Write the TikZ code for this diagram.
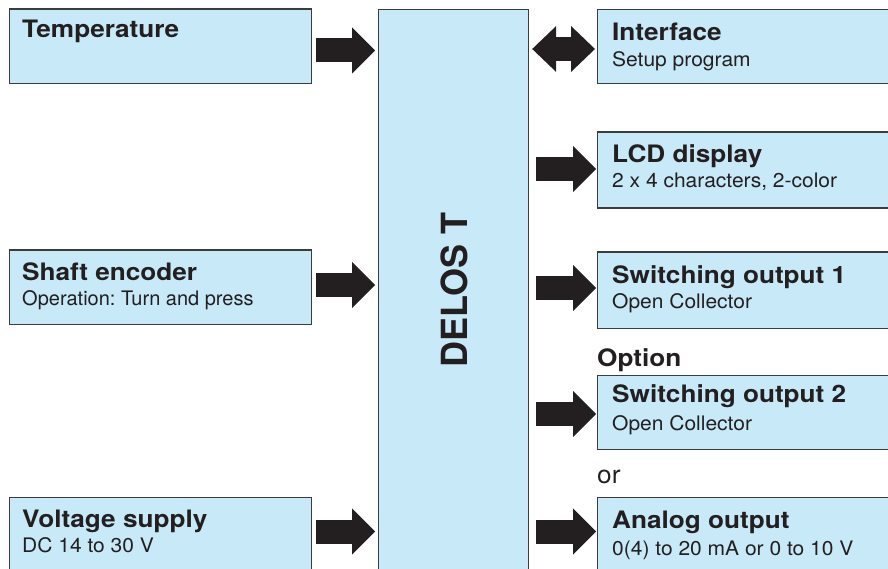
\documentclass[tikz,border=0pt]{standalone}
\usepackage{fontspec}
\setmainfont{TeX Gyre Heros}
\newfontfamily\headfont[FakeStretch=1.09]{TeX Gyre Heros}
\newfontfamily\subfont[FakeStretch=1.05]{TeX Gyre Heros}
\usepackage{tikz}
\usetikzlibrary{calc,arrows.meta}
\definecolor{boxblue}{RGB}{199,233,248}
\definecolor{boxline}{RGB}{60,60,60}
\definecolor{ink}{RGB}{35,31,32}
\def\unitbox{\node[unit]}
\def\headtext{\node[head]}
\def\subtext{\node[sub]}
\def\blockarrow{\draw[block]}
\frenchspacing

\begin{document}
\begin{tikzpicture}[x=1pt,y=-1pt,
  unit/.style={draw=boxline,fill=boxblue,line width=1.2pt,inner sep=0pt,anchor=north west},
  head/.style={anchor=base west,inner sep=0pt,text=ink,font=\headfont\fontsize{24}{28}\selectfont\bfseries},
  sub/.style={anchor=base west,inner sep=0pt,text=ink,font=\subfont\fontsize{20}{24}\selectfont},
  block/.style={draw=ink,line width=24pt,-{Triangle[length=23pt,width=46pt,line width=0pt]},shorten <=4pt,shorten >=3pt},
  both/.style={block,{Triangle[length=24pt,width=46pt,line width=0pt]}-{Triangle[length=24pt,width=46pt,line width=0pt]},shorten <=3pt,shorten >=2pt}]
\clip (0,0) rectangle (888,569);

% -------- central unit ---------
\unitbox[minimum width=150pt,minimum height=600pt] (core) at (378,9) {};
\node[anchor=base,rotate=90,inner sep=0pt,text=ink,font=\fontsize{36}{40}\selectfont\bfseries] (delos) at (467,290) {DELOS T};

% -------- inputs LEFT ---------
\unitbox[minimum width=302pt,minimum height=74.5pt] (temp) at (9,8.5) {};
\unitbox[minimum width=302pt,minimum height=74pt] (shaft) at (9,249.5) {};
\unitbox[minimum width=302pt,minimum height=100pt] (volt) at (9,497) {};
\headtext (temp_h) at ($ (temp.north west) + (13,29) $) {Temperature};
\headtext (shaft_h) at ($ (shaft.north west) + (13,31) $) {Shaft encoder};
\subtext[font=\fontsize{20}{24}\selectfont] (shaft_s) at ($ (shaft.north west) + (13,55.5) $) {Operation: Turn and press};
\headtext (volt_h) at ($ (volt.north west) + (13,30) $) {Voltage supply};
\subtext (volt_s) at ($ (volt.north west) + (13,55) $) {DC 14 to 30 V};

% -------- outputs RIGHT ---------
\unitbox[minimum width=303pt,minimum height=74pt] (iface) at (597,9) {};
\unitbox[minimum width=303pt,minimum height=76pt] (lcd) at (597,131.5) {};
\unitbox[minimum width=303pt,minimum height=76pt] (sw1) at (597,251.5) {};
\unitbox[minimum width=303pt,minimum height=74pt] (sw2) at (597,375) {};
\unitbox[minimum width=303pt,minimum height=100pt] (analog) at (597,497) {};
\headtext (iface_h) at ($ (iface.north west) + (15,31.5) $) {Interface};
\subtext (iface_s) at ($ (iface.north west) + (15,57.5) $) {Setup program};
\headtext (lcd_h) at ($ (lcd.north west) + (15,31.5) $) {LCD display};
\subtext (lcd_s) at ($ (lcd.north west) + (15,56.5) $) {2 x 4 characters, 2-color};
\headtext (sw1_h) at ($ (sw1.north west) + (15,31.5) $) {Switching output 1};
\subtext (sw1_s) at ($ (sw1.north west) + (15,56.5) $) {Open Collector};
\headtext (sw2_h) at ($ (sw2.north west) + (15,27.5) $) {Switching output 2};
\subtext (sw2_s) at ($ (sw2.north west) + (15,55.5) $) {Open Collector};
\headtext (analog_h) at ($ (analog.north west) + (15,31) $) {Analog output};
\subtext (analog_s) at ($ (analog.north west) + (15,58) $) {0(4) to 20 mA or 0 to 10 V};
\headtext (option) at (597,366) {Option};
\node[anchor=base west,inner sep=0pt,text=ink,font=\subfont\fontsize{25}{28}\selectfont] (or) at (597,483.5) {or};

% -------- arrows ---------
\coordinate (row_temp) at (0,50.5);
\coordinate (row_shaft) at (0,285);
\coordinate (row_volt) at (0,531.5);
\blockarrow (temp.east |- row_temp) -- (core.west |- row_temp);
\blockarrow (shaft.east |- row_shaft) -- (core.west |- row_shaft);
\blockarrow (volt.east |- row_volt) -- (core.west |- row_volt);

\coordinate (row_iface) at (0,49);
\coordinate (row_lcd) at (0,169);
\coordinate (row_sw1) at (0,288);
\coordinate (row_sw2) at (0,414);
\coordinate (row_analog) at (0,531.5);
\draw[both] (core.east |- row_iface) -- (iface.west |- row_iface);
\blockarrow[shorten <=7pt,shorten >=1pt] (core.east |- row_lcd) -- (lcd.west |- row_lcd);
\blockarrow[shorten <=7pt,shorten >=1pt] (core.east |- row_sw1) -- (sw1.west |- row_sw1);
\blockarrow[shorten <=7pt,shorten >=1pt] (core.east |- row_sw2) -- (sw2.west |- row_sw2);
\blockarrow[shorten <=7pt,shorten >=1pt] (core.east |- row_analog) -- (analog.west |- row_analog);
\end{tikzpicture}
\end{document}
